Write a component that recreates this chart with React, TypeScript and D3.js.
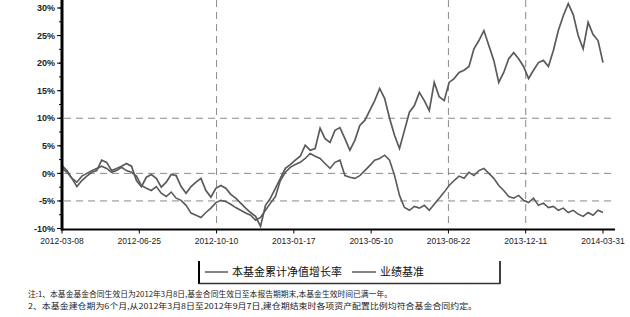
import React from "react";
import * as d3 from "d3";

const W = 630;
const H = 317;

// x-axis tick labels (evenly spaced trading-day positions)
const xTickLabels = [
  "2012-03-08", "2012-06-25", "2012-10-10", "2013-01-17",
  "2013-05-10", "2013-08-22", "2013-12-11", "2014-03-31",
];
const yTicks = [30, 25, 20, 15, 10, 5, 0, -5, -10];
const yGridValues = [10, 0, -5];
const xGridTickIdx = [2, 5, 6];

// fund cumulative NAV growth (%)
const fundSeries = [
  1.4, 0.5, -0.9, -2.4, -1.3, -0.5, 0.2, 0.5, 2.4, 2.0,
  0.5, 0.9, 1.3, 1.8, 1.3, -1.3, -2.4, -0.7, -0.2, -0.9,
  -2.5, -1.6, -0.2, -0.4, -2.4, -3.6, -2.4, -1.6, -0.9, -3.1,
  -4.3, -2.7, -2.2, -2.7, -3.8, -4.5, -5.4, -6.3, -7.1, -7.8,
  -9.6, -5.8, -4.5, -2.7, -0.9, 0.9, 1.6, 2.4, 3.1, 5.1,
  4.2, 4.5, 8.2, 6.3, 5.6, 7.8, 8.3, 6.3, 4.2, 6.0,
  8.7, 9.6, 11.4, 13.2, 15.4, 13.6, 10.0, 6.9, 4.5, 7.8,
  11.1, 12.3, 14.7, 13.2, 11.4, 16.5, 13.9, 13.2, 16.5, 17.2,
  18.3, 18.7, 19.4, 22.6, 24.1, 25.9, 23.2, 20.5, 16.5, 18.3,
  20.8, 21.9, 20.8, 19.4, 17.2, 18.7, 20.1, 20.5, 19.4, 22.3,
  25.9, 28.6, 30.8, 28.8, 25.0, 22.6, 27.4, 25.2, 24.1, 20.1,
];

// performance benchmark (%)
const benchSeries = [
  0.9, 0.2, -0.9, -1.6, -0.5, 0.0, 0.5, 0.9, 1.3, 0.9,
  0.2, 0.5, 1.1, 0.5, 0.2, -0.5, -2.2, -2.7, -3.1, -2.4,
  -3.6, -4.2, -3.4, -4.5, -4.9, -5.8, -7.2, -7.6, -8.0, -7.1,
  -6.3, -5.3, -4.9, -5.1, -5.6, -6.2, -6.7, -7.2, -7.6, -8.5,
  -8.0, -6.7, -5.4, -4.2, -1.3, 0.2, 1.1, 1.6, 2.0, 2.7,
  3.6, 3.1, 2.7, 1.8, 0.9, 2.0, 2.4, -0.4, -0.7, -0.9,
  -0.4, 0.5, 1.4, 2.4, 2.7, 3.3, 2.4, -0.4, -4.0, -6.2,
  -6.7, -6.0, -6.3, -5.8, -6.7, -5.6, -4.5, -3.4, -2.2, -1.3,
  -0.5, -0.9, 0.2, -0.4, 0.5, 0.9, 0.0, -0.9, -2.2, -3.1,
  -4.2, -4.5, -4.0, -4.9, -5.3, -4.5, -5.8, -5.4, -6.2, -6.0,
  -6.7, -6.3, -7.1, -6.7, -7.4, -7.8, -7.1, -7.6, -6.7, -7.1,
];

const legendLabels = ["本基金累计净值增长率", "业绩基准"];
const notes = [
  "注:1、本基金基金合同生效日为2012年3月8日,基金合同生效日至本报告期期末,本基金生效时间已满一年。",
  "2、本基金建仓期为6个月,从2012年3月8日至2012年9月7日,建仓期结束时各项资产配置比例均符合基金合同约定。",
];

const PL = 62;
const PR = 603;
const PT = 8;
const PB = 228.5;

export default function App() {
  const n = fundSeries.length;
  const x = d3.scaleLinear().domain([0, n - 1]).range([PL, PR]);
  const y = d3.scaleLinear().domain([-10, 30]).range([PB, PT]);
  const line = d3
    .line<number>()
    .x((_, i) => x(i))
    .y((d) => y(d));
  const tickX = (k: number) => x((k * (n - 1)) / (xTickLabels.length - 1));
  const minorY = d3.range(-10, 30.01, 2.5);

  return (
    <svg
      width={W}
      height={H}
      style={{ position: "absolute", left: 0, top: 0, background: "#fff" }}
    >
      {/* gridlines */}
      {yGridValues.map((v) => (
        <line
          key={"hg" + v}
          x1={PL + 2}
          x2={615}
          y1={y(v)}
          y2={y(v)}
          stroke="#8a8a8a"
          strokeWidth={1}
          strokeDasharray="7,5"
        />
      ))}
      {xGridTickIdx.map((k) => (
        <line
          key={"vg" + k}
          x1={tickX(k)}
          x2={tickX(k)}
          y1={0}
          y2={PB}
          stroke="#8a8a8a"
          strokeWidth={1}
          strokeDasharray="7,5"
        />
      ))}

      {/* series */}
      <path d={line(benchSeries) || ""} fill="none" stroke="#5a5a5a" strokeWidth={1.6} />
      <path d={line(fundSeries) || ""} fill="none" stroke="#5a5a5a" strokeWidth={1.7} />

      {/* y axis */}
      <line x1={PL} x2={PL} y1={0} y2={PB + 2} stroke="#000" strokeWidth={3} />
      {minorY.map((v) => (
        <line key={"my" + v} x1={PL - 3} x2={PL} y1={y(v)} y2={y(v)} stroke="#000" strokeWidth={1} />
      ))}
      {yTicks.map((v) => (
        <g key={"yt" + v}>
          <line x1={PL - 5} x2={PL} y1={y(v)} y2={y(v)} stroke="#000" strokeWidth={1} />
          <text
            x={PL - 7}
            y={y(v)}
            dy="0.35em"
            textAnchor="end"
            fontFamily="Liberation Sans, Arial, sans-serif"
            fontWeight="bold"
            fontSize={9}
            fill="#222"
          >
            {v + "%"}
          </text>
        </g>
      ))}

      {/* x axis */}
      <line x1={PL - 1} x2={615} y1={PB + 1} y2={PB + 1} stroke="#000" strokeWidth={2} />
      {xTickLabels.map((lab, k) => (
        <g key={"xt" + k}>
          <line x1={tickX(k)} x2={tickX(k)} y1={PB + 1} y2={PB + 5} stroke="#000" strokeWidth={1} />
          <text
            x={tickX(k)}
            y={PB + 15}
            textAnchor="middle"
            fontFamily="Liberation Sans, Arial, sans-serif"
            fontSize={8.5}
            fill="#222"
          >
            {lab}
          </text>
        </g>
      ))}

      {/* legend */}
      <g>
        <line x1={199} x2={199} y1={261} y2={284} stroke="#000" strokeWidth={2} />
        <line x1={500} x2={500} y1={261} y2={284} stroke="#000" strokeWidth={1.5} />
        <line x1={199} x2={500} y1={283.5} y2={283.5} stroke="#333" strokeWidth={1.5} />
        <line x1={205} x2={228} y1={272} y2={272} stroke="#333" strokeWidth={1.2} />
        <text
          x={232}
          y={272}
          dy="0.35em"
          fontFamily="Noto Sans CJK SC, sans-serif"
          fontSize={11}
          fill="#111"
        >
          {legendLabels[0]}
        </text>
        <line x1={352} x2={376} y1={272} y2={272} stroke="#333" strokeWidth={1.2} />
        <text
          x={380}
          y={272}
          dy="0.35em"
          fontFamily="Noto Sans CJK SC, sans-serif"
          fontSize={11}
          fill="#111"
        >
          {legendLabels[1]}
        </text>
      </g>

      {/* notes */}
      <text
        x={28}
        y={297}
        fontFamily="Noto Sans CJK SC, sans-serif"
        fontSize={8}
        fill="#222"
        textLength={364}
        lengthAdjust="spacingAndGlyphs"
      >
        {notes[0]}
      </text>
      <text
        x={28}
        y={309}
        fontFamily="Noto Sans CJK SC, sans-serif"
        fontSize={8}
        fill="#222"
        textLength={449}
        lengthAdjust="spacingAndGlyphs"
      >
        {notes[1]}
      </text>
    </svg>
  );
}
